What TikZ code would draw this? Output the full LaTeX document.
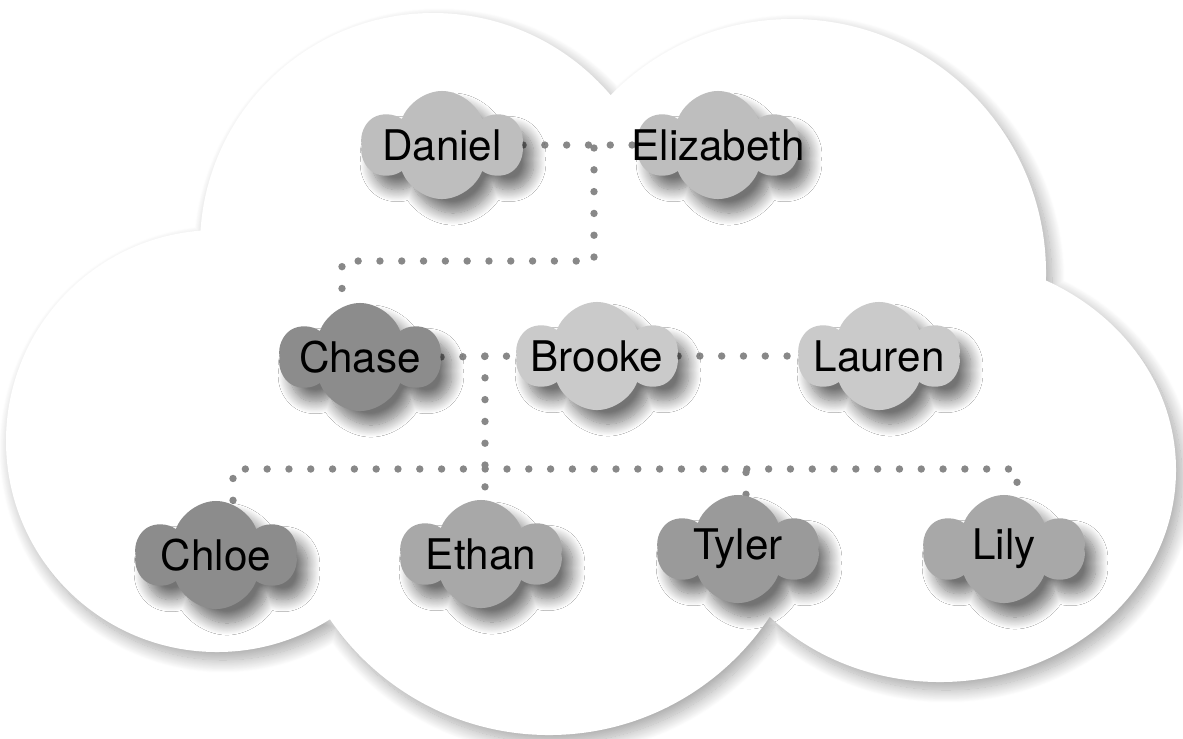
\documentclass[tikz,border=0pt]{standalone}
\usepackage{fontspec}
\setmainfont{TeX Gyre Heros}
\usetikzlibrary{shapes.symbols, shadows.blur, backgrounds}
\usepackage{xcolor}

\definecolor{linkgray}{HTML}{888888}
\definecolor{palegray}{HTML}{BEBEBE}
\definecolor{lightgray}{HTML}{CACACA}
\definecolor{midgray}{HTML}{A8A8A8}
\definecolor{deepgray}{HTML}{9A9A9A}
\definecolor{darkgray}{HTML}{8C8C8C}

\begin{document}
\begin{tikzpicture}[
    x=0.01cm, y=0.01cm,
    font=\fontsize{12}{14}\selectfont,
    person/.style={
        cloud, cloud puffs=6, cloud puff arc=140, aspect=1.5,
        shape border rotate=30,
        minimum width=1.6cm, minimum height=1.08cm, inner sep=0pt,
        fill=#1, draw=none,
        blur shadow={shadow xshift=0.11cm, shadow yshift=-0.14cm,
            shadow blur radius=0.12cm, shadow blur steps=15, shadow opacity=55}
    },
    link/.style={
        draw=linkgray, line width=2.1pt, line cap=round,
        dash pattern=on 0pt off 6.2pt
    }
]
    \useasboundingbox (0,0) rectangle (1183,-738);

    % parents
    \node[person=palegray, label=center:Daniel] (Daniel) at (442,-145) {};
    \node[person=palegray, label=center:Elizabeth] (Elizabeth) at (718,-145) {};
    % children and partners
    \node[person=darkgray, label=center:Chase] (Chase) at (360,-357) {};
    \node[person=lightgray, label=center:Brooke] (Brooke) at (597,-356) {};
    \node[person=lightgray, label=center:Lauren] (Lauren) at (879,-356) {};
    % grandchildren
    \node[person=darkgray, label=center:Chloe] (Chloe) at (216,-555) {};
    \node[person=midgray, label=center:Ethan] (Ethan) at (481,-554) {};
    \node[person=deepgray, label=center:Tyler] (Tyler) at (738,-549) {};
    \node[person=midgray, label=center:Lily] (Lily) at (1004,-549) {};

    \coordinate (parents) at (594,-148);
    \coordinate (turn) at (594,-261);
    \coordinate (kids) at (485,-356);
    \coordinate (bar) at (485,-469);

    \begin{scope}[on background layer]
        % big cloud
        \fill[white, blur shadow={shadow xshift=0.06cm, shadow yshift=-0.08cm,
                shadow blur radius=0.13cm, shadow blur steps=20, shadow opacity=35}]
            (433,-246) circle [radius=233]
            (792,-273) circle [radius=254]
            (940,-470) ellipse [x radius=236, y radius=212]
            (549,-470) circle [radius=265]
            (217,-441) circle [radius=211];

        \draw[link] (Daniel.east) -- (Elizabeth.west);
        \draw[link] (parents) -- (turn) -| ([xshift=-0.18cm]Chase.north);
        \draw[link] (Chase.east) -- (Brooke.west);
        \draw[link] (Brooke.east) -- (Lauren.west);
        \draw[link] (kids) -- (kids |- Ethan.north);
        \draw[link] ([xshift=0.17cm]Chloe.north) |- ([xshift=0.13cm]Lily.north |- bar)
            -- ([xshift=0.13cm]Lily.north);
        \draw[link] ([xshift=0.08cm]Tyler.north) -- ([xshift=0.08cm]Tyler.north |- bar);
    \end{scope}
\end{tikzpicture}
\end{document}
